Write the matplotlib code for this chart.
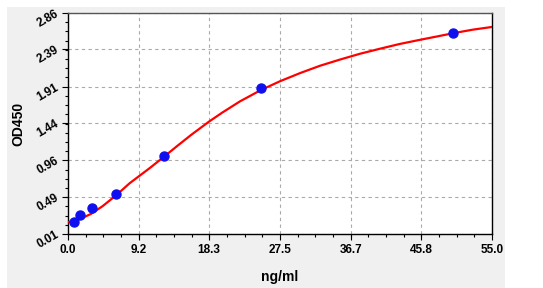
import numpy as np
import matplotlib
matplotlib.use("Agg")
import matplotlib.pyplot as plt
from matplotlib.patches import Rectangle

plt.rcParams['font.family'] = ['Liberation Sans', 'DejaVu Sans']

# standard points
conc = [0.78, 1.56, 3.125, 6.25, 12.5, 25.0, 50.0]
od = [0.16, 0.25, 0.34, 0.53, 1.02, 1.89, 2.60]

# fitted curve
curve_x = [0.15, 1.5, 3.0, 4.5, 6.25, 8.0, 10.6, 12.5, 14.1, 16.0, 18.3, 20.0, 22.3,
           25.0, 27.5, 30.1, 32.7, 35.3, 37.9, 40.5, 43.0, 45.7, 48.0, 50.0, 52.5, 55.0]
curve_y = [0.165, 0.20, 0.27, 0.37, 0.51, 0.665, 0.86, 1.01, 1.14, 1.29, 1.46, 1.575, 1.72,
           1.865, 1.98, 2.085, 2.18, 2.26, 2.335, 2.40, 2.46, 2.515, 2.56, 2.60, 2.645, 2.68]

xticks = [0.0, 9.2, 18.3, 27.5, 36.7, 45.8, 55.0]
yticks = [0.01, 0.49, 0.96, 1.44, 1.91, 2.39, 2.86]

fig = plt.figure(figsize=(5.43, 2.88), dpi=100, facecolor='white')
fig.patches.append(Rectangle((7/543, 0), 498/543, 281/288, transform=fig.transFigure,
                             facecolor='#f0f0f0', edgecolor='none', zorder=-5))
ax = fig.add_axes([68/543, 54/288, 424/543, 221/288])
ax.set_zorder(2)
ax.set_facecolor('white')

ax.plot(curve_x, curve_y, color='#ff0000', lw=1.6, zorder=3)
ax.plot(conc, od, 'o', color='#1010ee', ms=6.5, zorder=4)

ax.set_xlim(0, 55)
ax.set_ylim(0.01, 2.86)
ax.set_xticks(xticks)
ax.set_xticklabels(['%.1f' % v for v in xticks])
ax.set_yticks(yticks)
ax.set_yticklabels(['%.2f' % v for v in yticks], rotation=30, ha='right', va='center',
                   rotation_mode='anchor')
ax.set_xticks(np.arange(0, 55.01, 55 / 24), minor=True)
ax.set_yticks(np.linspace(0.01, 2.86, 25), minor=True)
ax.tick_params(which='major', length=4, width=0.8, labelsize=8.5)
ax.tick_params(which='minor', length=2.5, width=0.8)
for lab in ax.get_xticklabels() + ax.get_yticklabels():
    lab.set_fontweight('bold')

ax.grid(True, which='major', color='#aaaaaa', linestyle=(0, (3, 3)), lw=0.8)
for s in ax.spines.values():
    s.set_linewidth(1.0)
    s.set_color('black')
ax.spines['top'].set_color('#555555')

ax.set_xlabel('ng/ml', fontsize=10, fontweight='bold')
ax.set_ylabel('OD450', fontsize=10, fontweight='bold')
ax.xaxis.set_label_coords(0.5, -0.165)
ax.yaxis.set_label_coords(-0.10, 0.5)

fig.savefig('out.png', dpi=100, facecolor='white')
